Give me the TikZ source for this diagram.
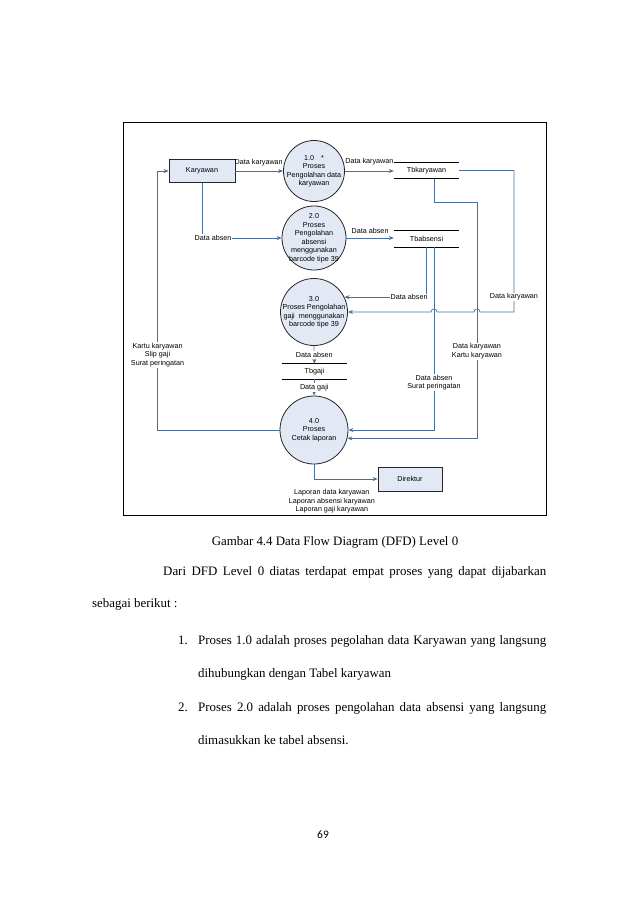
\documentclass[tikz,border=0pt]{standalone}
\usepackage{fontspec}
\setmainfont{Liberation Serif}
\setsansfont{Liberation Sans}
\newfontfamily\pagefont{Carlito}
\usetikzlibrary{arrows.meta}

\definecolor{dfdline}{RGB}{74,110,150}
\definecolor{dfdfill}{RGB}{226,233,245}

\begin{document}
\begin{tikzpicture}[
    x=1pt, y=-1pt,
    every node/.style={font=\sffamily\fontsize{7.2}{8.5}\selectfont, inner sep=1pt},
    process/.style={circle, draw=black!85, line width=0.8pt, fill=dfdfill, inner sep=0pt},
    entity/.style={rectangle, draw=black!85, line width=0.8pt, fill=dfdfill, minimum height=23pt},
    store/.style={minimum width=65pt, minimum height=16pt, inner sep=0pt},
    flow/.style={draw=dfdline, line width=0.7pt, -{Stealth[length=5pt,width=4pt]}},
    flowlabel/.style={fill=white, align=center},
    bodytext/.style={font=\rmfamily\fontsize{12.9}{15}\selectfont, inner sep=0pt, anchor=base west}
]
\useasboundingbox (0,0) rectangle (638,903);

% frame round the diagram
\draw[line width=0.8pt] (123,122) rectangle (546,515);

% entities
\node[entity, minimum width=66pt] (kar) at (202,171) {Karyawan};
\node[entity, minimum width=64pt, minimum height=24pt] (dir) at (410,479) {Direktur};

% processes
\node[process, minimum size=61pt, label={[align=center]center:1.0\hspace{7pt}*\\Proses\\Pengolahan data\\karyawan}] (p1) at (314,171) {};
\node[process, minimum size=64pt, label={[align=center]center:2.0\\Proses\\Pengolahan\\absensi\\menggunakan\\barcode tipe 39}] (p2) at (314,238) {};
\node[process, minimum size=67pt, label={[align=center]center:3.0\\Proses Pengolahan\\gaji\hspace{4pt}menggunakan\\barcode tipe 39}] (p3) at (314,312) {};
\node[process, minimum size=68pt, label={[align=center]center:4.0\\Proses\\Cetak laporan}] (p4) at (314,430) {};

% data stores
\node[store] (tbk) at (426.5,170.5) {Tbkaryawan};
\node[store] (tbabs) at (426.5,239) {Tbabsensi};
\node[store, minimum height=15pt] (tbg) at (314.5,371.5) {Tbgaji};
\foreach \s in {tbk,tbabs,tbg} {
    \draw[line width=0.8pt] (\s.north west) -- (\s.north east);
    \draw[line width=0.8pt] (\s.south west) -- (\s.south east);
}

% flows
\draw[flow] (kar.east) -- node[pos=1, anchor=south east, xshift=1pt, yshift=3.5pt] (lbl1) {Data karyawan} (p1.west);
\draw[flow] (p1.east) -- node[above, yshift=4.5pt] (lbl2) {Data karyawan} (p1.east -| tbk.west);
\draw[flow] (kar.south) |- node[flowlabel, pos=0.5, xshift=11pt] (lbl3) {Data absen} (p2.west);
\draw[flow] (p2.east) -- node[above, yshift=3.5pt] (lbl4) {Data absen} (p2.east -| tbabs.west);
\draw[flow] (tbk.east) -| node[flowlabel, pos=0.947] (lbl5) {Data karyawan} (514,312)
    -- (480,312) arc[start angle=0, end angle=-180, radius=3]
    -- (437,312) arc[start angle=0, end angle=-180, radius=3] -- (p3.east);
\draw[flow] (tbabs.south) |- node[flowlabel, pos=0.606] (lbl6) {Data absen} (p3.26);
\draw[flow] ([xshift=7.5pt]tbabs.south) |- node[flowlabel, pos=0.37] (lbl7) {Data absen\\Surat peringatan} (p4.east);
\draw[flow] ([xshift=7.5pt]tbk.south) |- (477,202) |- node[flowlabel, pos=0.316] (lbl8) {Data karyawan\\Kartu karyawan} (p4.-14);
\draw[flow] (p3.south) -- node[flowlabel] (lbl9) {Data absen} (tbg.north);
\draw[flow] (tbg.south) -- node[flowlabel] (lbl10) {Data gaji} (p4.north);
\draw[flow] (p4.west) -| node[flowlabel, pos=0.645] (lbl11) {Kartu karyawan\\Slip gaji\\Surat peringatan} ([xshift=-11pt]kar.west) -- (kar.west);
\draw[flow] (p4.south) |- node[pos=0.64, below=9pt, align=center] (lbl12) {Laporan data karyawan\\Laporan absensi karyawan\\Laporan gaji karyawan} (dir.west);

% page text
\node[bodytext, anchor=base] (caption) at (335,545) {Gambar 4.4 Data Flow Diagram (DFD) Level 0};
\node[bodytext] (para1) at (163,575) {\makebox[383pt][s]{Dari DFD Level 0 diatas terdapat empat proses yang dapat dijabarkan}};
\node[bodytext] (para2) at (92,607) {sebagai berikut :};
\node[bodytext] (num1) at (178,644) {1.};
\node[bodytext] (item1a) at (198,644) {\makebox[348pt][s]{Proses 1.0 adalah proses pegolahan data Karyawan yang langsung}};
\node[bodytext] (item1b) at (198,677) {dihubungkan dengan Tabel karyawan};
\node[bodytext] (num2) at (178,711) {2.};
\node[bodytext] (item2a) at (198,711) {\makebox[348pt][s]{Proses 2.0 adalah proses pengolahan data absensi yang langsung}};
\node[bodytext] (item2b) at (198,744) {dimasukkan ke tabel absensi.};
\node[font=\pagefont\fontsize{11.5}{13}\selectfont] (pagenum) at (323,835) {69};

\end{tikzpicture}
\end{document}
